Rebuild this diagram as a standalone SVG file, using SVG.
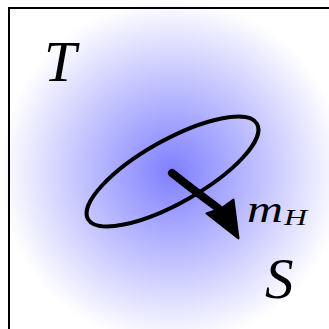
<svg xmlns="http://www.w3.org/2000/svg" width="329" height="329" viewBox="0 0 329 329">
<defs>
<radialGradient id="glow" gradientUnits="userSpaceOnUse" cx="172" cy="172" r="172">
<stop offset="0" stop-color="#7f7fff"/>
<stop offset="1" stop-color="#ffffff"/>
</radialGradient>
<style>
.lbl{font-family:"Liberation Serif","DejaVu Serif",serif;font-style:italic;fill:#000}
</style>
</defs>
<rect x="0" y="0" width="329" height="329" fill="#fff"/>
<g id="region">
<circle cx="172" cy="172" r="172" fill="url(#glow)"/>
<path d="M9,340 V8 H340" fill="none" stroke="#000" stroke-width="2"/>
</g>
<g id="orbit">
<ellipse cx="172.5" cy="171.5" rx="97" ry="31.5" transform="rotate(-29.4 172.5 171.5)" fill="none" stroke="#000" stroke-width="4"/>
</g>
<g id="connectors">
<path d="M172,173 Q196,192 218,208" fill="none" stroke="#000" stroke-width="8" stroke-linecap="round"/>
<polygon points="238.5,238.5 233.5,199.5 221,208.5 206.5,213.5" fill="#000" stroke="#000" stroke-width="2" stroke-linejoin="round"/>
</g>
<g id="labels">
<text class="lbl" x="44" y="81" font-size="58">T</text>
<text class="lbl" x="247" y="222" font-size="37" textLength="36" lengthAdjust="spacingAndGlyphs">m</text>
<text class="lbl" x="284" y="225" font-size="23" textLength="23" lengthAdjust="spacingAndGlyphs">H</text>
<text class="lbl" x="265" y="298" font-size="57">S</text>
</g>
</svg>
